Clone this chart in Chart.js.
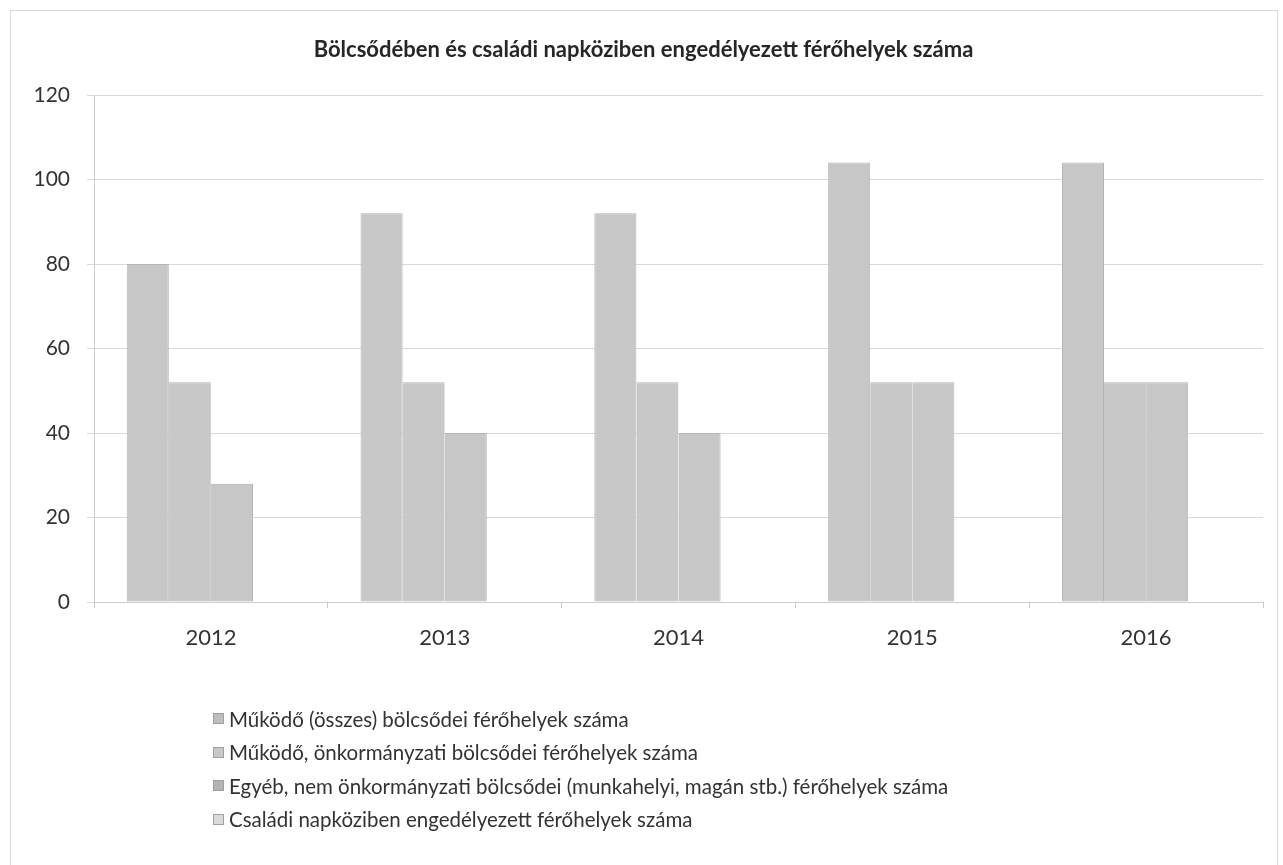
<!DOCTYPE html>
<html>
<head>
<meta charset="utf-8">
<script src="https://cdn.jsdelivr.net/npm/chart.js@4/dist/chart.umd.min.js"></script>
<style>
  html, body { margin: 0; padding: 0; background: #ffffff; }
  #wrap { position: relative; width: 1283px; height: 865px; overflow: hidden; }
  #frame { position: absolute; left: 10px; top: 10px; width: 1268px; height: 900px; border: 1px solid #d9d9d9; box-sizing: border-box; }
  canvas { position: absolute; left: 0; top: 0; }
  #legend { position: absolute; left: 213px; top: 702px; font-family: Lato, "Open Sans", sans-serif; font-size: 20.5px; color: #333333; }
  #legend .row { height: 33.5px; display: flex; align-items: center; white-space: nowrap; }
  #legend .box { width: 11px; height: 11px; margin-right: 5px; box-sizing: border-box; border: 1px solid #a0a0a0; }
</style>
</head>
<body>
<div id="wrap">
  <div id="frame"></div>
  <canvas id="c" width="1283" height="865"></canvas>
  <div id="legend"></div>
</div>
<script>
const categories = ["2012", "2013", "2014", "2015", "2016"];
const seriesLabels = [
  "Működő (összes) bölcsődei férőhelyek száma",
  "Működő, önkormányzati bölcsődei férőhelyek száma",
  "Egyéb, nem önkormányzati bölcsődei (munkahelyi, magán stb.) férőhelyek száma",
  "Családi napköziben engedélyezett férőhelyek száma"
];
const osszes = [80, 92, 92, 104, 104];
const onkormanyzati = [52, 52, 52, 52, 52];
const egyeb = [28, 40, 40, 52, 52];
const csaladi = [0, 0, 0, 0, 0];
const yTicks = [0, 20, 40, 60, 80, 100, 120];
const titleText = "Bölcsődében és családi napköziben engedélyezett férőhelyek száma";

const colors = ["#c7c7c7", "#c8c8c8", "#c7c7c7", "#dcdcdc"];
const legendColors = ["#bdbdbd", "#c8c8c8", "#b4b4b4", "#dadada"];
const seriesData = [osszes, onkormanyzati, egyeb, csaladi];

const borders = [
  { top: 1, left: 1, right: 1, bottom: 0 },
  { top: 1, left: 0, right: 0, bottom: 0 },
  { top: 1, left: 0, right: 1, bottom: 0 },
  { top: 0, left: 0, right: 0, bottom: 0 }
];

const datasets = seriesData.map((d, i) => ({
  label: seriesLabels[i],
  data: d,
  backgroundColor: colors[i],
  borderColor: "#b4b4b4",
  borderWidth: borders[i],
  borderSkipped: false,
  categoryPercentage: 0.72,
  barPercentage: 1.0
}));

const chart = new Chart(document.getElementById("c"), {
  type: "bar",
  data: { labels: categories, datasets },
  options: {
    responsive: false,
    animation: false,
    devicePixelRatio: 1,
    layout: { padding: { left: 24, right: 20, top: 0, bottom: 203 } },
    plugins: {
      legend: { display: false },
      tooltip: { enabled: false },
      title: {
        display: true,
        text: titleText,
        color: "#262626",
        font: { family: "Lato", size: 22, weight: "bold", lineHeight: 1.2 },
        padding: { top: 37, bottom: 31.6 }
      }
    },
    scales: {
      x: {
        offset: true,
        grid: { drawOnChartArea: false, tickLength: 6, color: "#c8c8c8" },
        border: { display: true, color: "#cccccc" },
        ticks: { color: "#333333", font: { family: "Lato", size: 22 }, padding: 17 },
        afterFit: (s) => { s.height = 60; }
      },
      y: {
        min: 0, max: 120,
        afterBuildTicks: (s) => { s.ticks = yTicks.map(v => ({ value: v })); },
        grid: { color: "#d9d9d9", tickLength: 7 },
        border: { display: true, color: "#d0d0d0" },
        ticks: { color: "#333333", font: { family: "Lato", size: 21 }, padding: 17 },
        afterFit: (s) => { s.width = 70; }
      }
    }
  }
});

const legend = document.getElementById("legend");
seriesLabels.forEach((lab, i) => {
  const row = document.createElement("div");
  row.className = "row";
  const box = document.createElement("span");
  box.className = "box";
  box.style.background = legendColors[i];
  const txt = document.createElement("span");
  txt.textContent = lab;
  row.appendChild(box);
  row.appendChild(txt);
  legend.appendChild(row);
});
</script>
</body>
</html>
